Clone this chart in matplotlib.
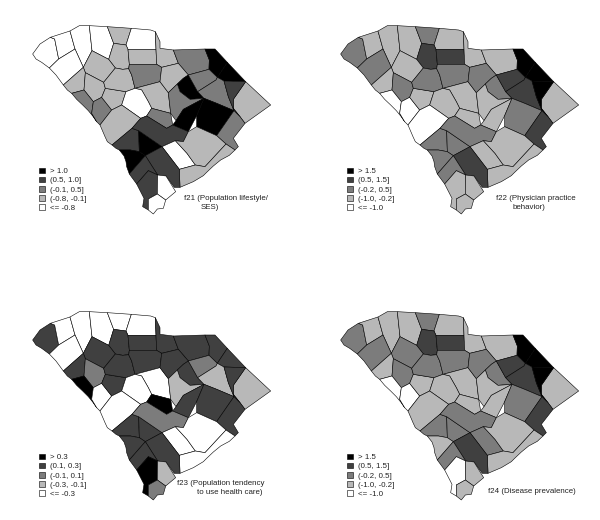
"""Four-panel South Carolina county factor maps (f21-f24)."""
import matplotlib
matplotlib.use("Agg")
import matplotlib.pyplot as plt
from matplotlib.patches import Patch

plt.rcParams["font.family"] = ["Liberation Sans", "DejaVu Sans"]

# county outlines, in units of a 3x pixel grid of one map panel (y down)
COUNTIES = {
    "Oconee": [(38, 132), (60, 102), (91, 82), (104, 87), (116, 147), (88, 174), (65, 157), (48, 147)],
    "Pickens": [(91, 82), (150, 63), (165, 117), (116, 147), (104, 87)],
    "Greenville": [(150, 63), (178, 47), (208, 47), (216, 122), (190, 172), (165, 117)],
    "Spartanburg": [(208, 47), (262, 50), (281, 100), (266, 148), (216, 122)],
    "Anderson": [(116, 147), (165, 117), (190, 172), (130, 225), (108, 195), (88, 174)],
    "Cherokee": [(262, 50), (334, 55), (318, 105), (281, 100)],
    "York": [(334, 55), (392, 60), (406, 65), (408, 118), (324, 118), (318, 105)],
    "Union": [(281, 100), (318, 105), (324, 118), (328, 163), (326, 176), (308, 178), (286, 174), (266, 148)],
    "Chester": [(324, 118), (408, 118), (410, 163), (328, 163)],
    "Lancaster": [(406, 65), (420, 95), (420, 115), (460, 120), (475, 160), (425, 172), (410, 163), (408, 118)],
    "Chesterfield": [(460, 120), (555, 117), (568, 150), (567, 178), (505, 195), (475, 160)],
    "Marlboro": [(555, 117), (585, 117), (622, 157), (592, 202), (567, 178), (568, 150)],
    "Dillon": [(622, 157), (677, 215), (612, 213), (592, 202)],
    "Horry": [(677, 215), (752, 285), (675, 340), (660, 320), (640, 295), (640, 268)],
    "Laurens": [(190, 172), (216, 122), (266, 148), (286, 174), (251, 217), (196, 188)],
    "Abbeville": [(130, 225), (190, 172), (196, 188), (192, 240), (155, 250), (142, 240)],
    "Greenwood": [(196, 188), (251, 217), (256, 235), (245, 262), (220, 275), (192, 240)],
    "McCormick": [(155, 250), (192, 240), (220, 275), (215, 310), (230, 335), (218, 318), (205, 302), (188, 285), (170, 268)],
    "Edgefield": [(220, 275), (245, 262), (275, 300), (240, 345), (230, 335), (215, 310)],
    "Saluda": [(245, 262), (256, 235), (318, 245), (305, 285), (275, 300)],
    "Newberry": [(251, 217), (286, 174), (308, 178), (326, 176), (335, 195), (345, 235), (318, 245), (256, 235)],
    "Fairfield": [(328, 163), (410, 163), (425, 172), (420, 215), (345, 235), (335, 195), (326, 176)],
    "Richland": [(345, 235), (420, 215), (445, 248), (452, 310), (395, 295), (385, 275), (365, 240)],
    "Kershaw": [(425, 172), (475, 160), (505, 195), (490, 205), (472, 222), (445, 248), (420, 215)],
    "Lexington": [(305, 285), (318, 245), (345, 235), (365, 240), (385, 275), (395, 295), (380, 318), (362, 325)],
    "Lee": [(472, 222), (490, 205), (505, 195), (533, 245), (552, 265), (510, 268), (480, 245)],
    "Darlington": [(505, 195), (567, 178), (592, 202), (588, 210), (533, 245)],
    "Florence": [(533, 245), (588, 210), (592, 202), (612, 213), (625, 260), (642, 302), (590, 280), (552, 265)],
    "Marion": [(612, 213), (677, 215), (640, 268), (640, 295), (660, 320), (642, 302), (625, 260)],
    "Sumter": [(445, 248), (472, 222), (480, 245), (510, 268), (552, 265), (490, 298), (468, 332), (452, 310)],
    "Clarendon": [(458, 345), (468, 332), (490, 298), (552, 265), (530, 317), (505, 365)],
    "Williamsburg": [(530, 317), (552, 265), (590, 280), (642, 302), (590, 377), (530, 350)],
    "Georgetown": [(590, 377), (642, 302), (660, 320), (675, 340), (640, 385), (655, 410), (645, 420), (618, 402)],
    "Calhoun": [(380, 318), (395, 295), (452, 310), (458, 345), (440, 355)],
    "Aiken": [(240, 345), (275, 300), (305, 285), (362, 325), (336, 355), (276, 405), (262, 395), (255, 380)],
    "Barnwell": [(276, 405), (336, 355), (356, 362), (358, 425), (331, 420), (298, 420), (288, 415)],
    "Bamberg": [(356, 362), (426, 410), (376, 437), (358, 425)],
    "Allendale": [(298, 420), (331, 420), (358, 425), (376, 437), (328, 492), (320, 470), (318, 455), (312, 438)],
    "Orangeburg": [(336, 355), (362, 325), (380, 318), (440, 355), (458, 345), (505, 365), (490, 395), (466, 392), (426, 410), (356, 362)],
    "Dorchester": [(426, 410), (466, 392), (501, 430), (526, 465), (478, 478)],
    "Berkeley": [(490, 395), (505, 365), (530, 350), (590, 377), (618, 402), (555, 470), (526, 465), (501, 430), (466, 392)],
    "Charleston": [(478, 478), (526, 465), (555, 470), (618, 402), (645, 420), (628, 436), (602, 450), (580, 468), (560, 487), (550, 497), (520, 515), (480, 532)],
    "Colleton": [(376, 437), (426, 410), (478, 478), (480, 532), (463, 532), (438, 498), (413, 495)],
    "Hampton": [(328, 492), (376, 437), (413, 495), (385, 482), (350, 522)],
    "Jasper": [(350, 522), (385, 482), (413, 495), (412, 552), (385, 567), (385, 600), (368, 590), (372, 565)],
    "BeaufortN": [(413, 495), (438, 498), (467, 545), (437, 570), (412, 552)],
    "BeaufortS": [(385, 567), (412, 552), (437, 570), (430, 595), (412, 597), (400, 612), (385, 600)],
}

# class per county, same order as COUNTIES (0 = lowest class, 4 = highest)
F21 = [0, 0, 0, 0, 0, 1, 0, 1, 1, 1, 2, 4, 4, 1, 1, 1, 1, 2, 2, 1, 1, 2, 1, 1, 0, 4, 2, 2, 3, 2, 4, 4, 2, 2, 1, 3, 4, 4, 3, 0, 1, 1, 3, 3, 3, 0, 0]
F22 = [2, 1, 1, 1, 2, 2, 1, 3, 3, 1, 1, 4, 4, 1, 1, 1, 2, 0, 0, 1, 2, 2, 1, 2, 1, 2, 3, 3, 4, 1, 1, 2, 3, 1, 0, 2, 2, 2, 2, 1, 1, 1, 3, 2, 1, 1, 1]
F23 = [3, 0, 0, 0, 0, 0, 0, 3, 3, 3, 3, 3, 3, 1, 3, 3, 2, 4, 0, 3, 3, 3, 0, 3, 0, 3, 2, 1, 3, 1, 3, 3, 3, 4, 0, 3, 3, 3, 2, 0, 0, 0, 3, 3, 4, 1, 2]
F24 = [2, 1, 1, 1, 2, 2, 1, 3, 3, 1, 1, 4, 4, 1, 2, 1, 2, 0, 0, 1, 2, 2, 1, 2, 1, 2, 3, 3, 4, 1, 1, 2, 3, 1, 1, 2, 2, 1, 2, 2, 1, 1, 3, 2, 0, 1, 1]

LABELS_21 = ["> 1.0", "(0.5, 1.0]", "(-0.1, 0.5]", "(-0.8, -0.1]", "<= -0.8"]
LABELS_22 = ["> 1.5", "(0.5, 1.5]", "(-0.2, 0.5]", "(-1.0, -0.2]", "<= -1.0"]
LABELS_23 = ["> 0.3", "(0.1, 0.3]", "(-0.1, 0.1]", "(-0.3, -0.1]", "<= -0.3"]
LABELS_24 = ["> 1.5", "(0.5, 1.5]", "(-0.2, 0.5]", "(-1.0, -0.2]", "<= -1.0"]

GREYS = ["#ffffff", "#b8b8b8", "#7c7c7c", "#404040", "#000000"]
EDGE = "#000000"
W, H = 600, 520


def draw_panel(left, top, classes, labels, title_lines):
    # panel is 270x215 px, data units are 3x px
    ax = fig.add_axes([left / W, 1 - (top + 215) / H, 270 / W, 215 / H])
    ax.set_xlim(0, 810)
    ax.set_ylim(645, 0)
    ax.axis("off")
    for (name, poly), c in zip(COUNTIES.items(), classes):
        xs, ys = zip(*poly)
        ax.fill(xs, ys, facecolor=GREYS[c], edgecolor=EDGE, lw=0.4, joinstyle="round")
    handles = [Patch(facecolor=GREYS[4 - i], edgecolor=EDGE, lw=0.4) for i in range(5)]
    ax.legend(handles, labels, loc="upper left", bbox_to_anchor=(56 / 810, 1 - 473 / 645),
              frameon=False, fontsize=5.7, labelcolor="#222222", handlelength=0.76, handleheight=0.7,
              handletextpad=0.72, labelspacing=0.21, borderpad=0, borderaxespad=0)
    for x, y, s in title_lines:
        ax.text(x, y, s, fontsize=5.7, color="#222222", va="center", ha="left")


fig = plt.figure(figsize=(W / 100, H / 100), dpi=100)
draw_panel(20, 10, F21, LABELS_21, [(492, 565, "f21 (Population lifestyle/"), (542, 592, "SES)")])
draw_panel(328, 10, F22, LABELS_22, [(504, 565, "f22 (Physician practice"), (554, 592, "behavior)")])
draw_panel(20, 296, F23, LABELS_23, [(470, 562, "f23 (Population tendency"), (530, 590, "to use health care)")])
draw_panel(328, 296, F24, LABELS_24, [(481, 588, "f24 (Disease prevalence)")])
fig.savefig("out.png", dpi=100, facecolor="white")
